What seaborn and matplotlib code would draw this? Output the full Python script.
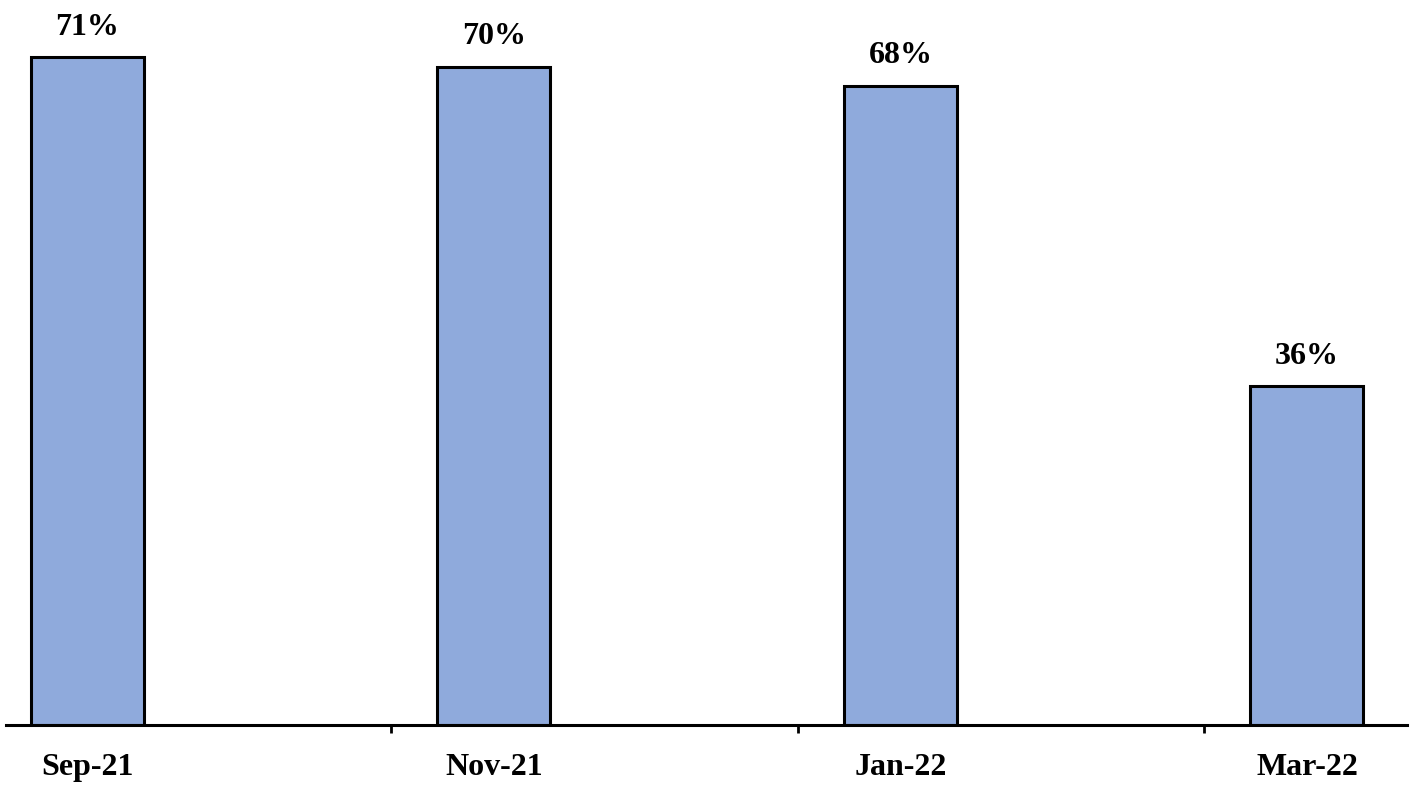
import seaborn as sns
import pandas as pd
import matplotlib.pyplot as plt

months = ['Sep-21', 'Nov-21', 'Jan-22', 'Mar-22']
share = [71, 70, 68, 36]
labels = ['71%', '70%', '68%', '36%']

df = pd.DataFrame({'Month': months, 'Share': share})

sns.set_style('white')
plt.rcParams['font.family'] = ['Liberation Serif', 'DejaVu Serif']
plt.rcParams['font.weight'] = 'bold'
plt.rcParams['text.color'] = 'black'
plt.rcParams['xtick.color'] = 'black'

fig = plt.figure(figsize=(14.18, 7.95), dpi=100)
ax = fig.add_axes([0.0042, 0.088, 0.9880, 0.912])

sns.barplot(data=df, x='Month', y='Share', color='#8FAADC', width=0.278,
            edgecolor='black', linewidth=2.2, saturation=1, ax=ax)

for i, (v, lab) in enumerate(zip(share, labels)):
    ax.annotate(lab, (i, v), xytext=(0, 11), textcoords='offset points',
                ha='center', va='bottom', fontsize=23, fontweight='bold',
                color='black')

ax.set_xlim(-0.2005, 3.246)
ax.set_ylim(0, 77.1)
ax.set_xlabel('')
ax.set_ylabel('')
ax.set_yticks([])
for s in ['top', 'right', 'left']:
    ax.spines[s].set_visible(False)
ax.spines['bottom'].set_linewidth(2.2)
ax.spines['bottom'].set_color('black')

ax.tick_params(axis='x', which='major', bottom=True, length=0, pad=20,
               labelsize=23, labelcolor='black')
ax.set_xticks([0.747, 1.747, 2.747], minor=True)
ax.tick_params(axis='x', which='minor', bottom=True, length=6, width=2,
               direction='out', color='black')
for t in ax.get_xticklabels():
    t.set_fontweight('bold')

fig.savefig('out.png', dpi=100)
